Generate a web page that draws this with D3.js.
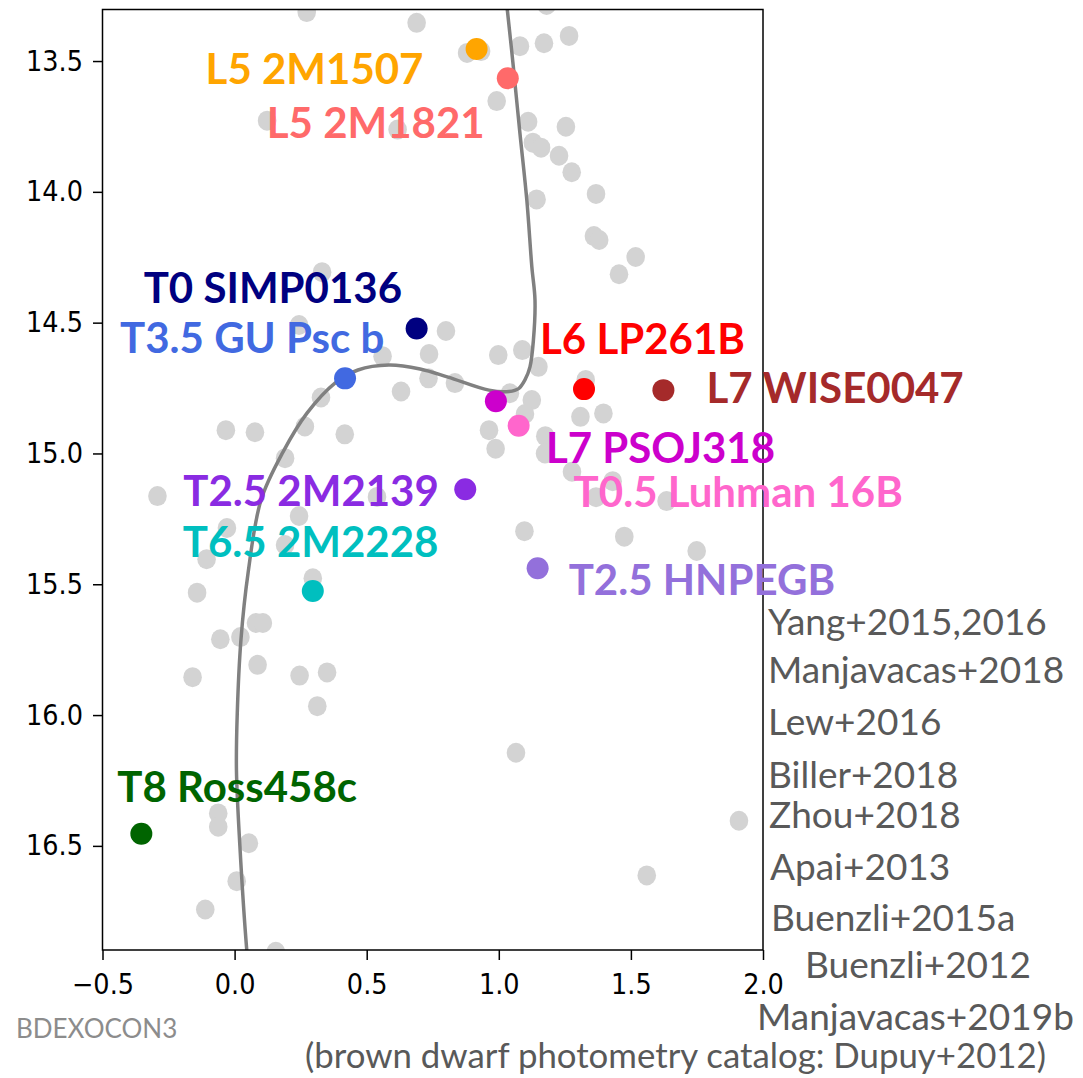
<!DOCTYPE html>
<html>
<head>
<meta charset="utf-8">
<script src="https://cdn.jsdelivr.net/npm/d3@7"></script>
<style>
  html, body { margin: 0; padding: 0; background: #fff; }
  svg { display: block; }
  .axis text { font-family: 'DejaVu Sans', sans-serif; font-size: 25.6px; fill: #000; }
  .axis line { stroke: #000; stroke-width: 1.5; }
  .label { font-family: Lato, 'Open Sans', sans-serif; font-weight: bold; font-size: 42px; }
  .ref { font-family: Lato, 'Open Sans', sans-serif; font-size: 37px; fill: #595959; }
</style>
</head>
<body>
<div id="chart"></div>
<script>
// field brown dwarfs (photometry catalog, Dupuy+2012): colour vs abs. magnitude
const fieldColor = [
  0.273, 0.689, 1.181, 0.880, 0.933, 1.080, 1.171, 1.266, 0.992, 0.123,
  0.617, 1.111, 1.254, 1.129, 1.160, 1.228, 1.276, 1.143, 1.368, 1.360,
  1.380, 1.518, 1.455, 0.331, 0.244, 0.800, 0.560, 0.736, 0.734, 0.327,
  0.630, -0.033, 0.077, 0.266, 0.417, 0.191, -0.292, 0.539, 0.244, -0.029,
  0.191, -0.106, 0.296, -0.142, 0.081, 0.107, -0.054, 0.022, 0.087, -0.159,
  0.246, 0.350, 0.313, -0.062, -0.062, 0.054, 0.008, -0.111, 0.156, 0.998,
  1.089, 1.150, 1.329, 0.834, 1.042, 1.125, 1.099, 1.309, 1.396, 0.963,
  0.988, 1.176, 1.175, 1.277, 1.431, 1.368, 1.635, 1.097, 1.475, 1.749,
  1.065, 1.909, 1.560
];
const fieldMag = [
  13.313, 13.354, 13.286, 13.469, 13.462, 13.443, 13.432, 13.404, 13.653, 13.728,
  13.762, 13.732, 13.751, 13.812, 13.831, 13.862, 13.925, 14.029, 14.008, 14.169,
  14.184, 14.249, 14.315, 14.307, 14.509, 14.532, 14.628, 14.620, 14.713, 14.786,
  14.763, 14.911, 14.919, 14.897, 14.927, 15.018, 15.163, 15.166, 15.239, 15.285,
  15.350, 15.404, 15.477, 15.532, 15.648, 15.648, 15.710, 15.702, 15.808, 15.855,
  15.849, 15.837, 15.966, 16.376, 16.427, 16.490, 16.635, 16.743, 16.905, 14.624,
  14.605, 14.669, 14.719, 14.731, 14.770, 14.796, 14.849, 14.860, 14.847, 14.911,
  14.982, 14.934, 15.000, 15.070, 15.106, 15.167, 15.182, 15.297, 15.318, 15.373,
  16.144, 16.404, 16.613
];

// variability monitoring targets
const targetNames = [
  'L5 2M1507', 'L5 2M1821', 'T0 SIMP0136', 'T3.5 GU Psc b', 'L6 LP261B', 'L7 WISE0047',
  'L7 PSOJ318', 'T0.5 Luhman 16B', 'T2.5 2M2139', 'T2.5 HNPEGB', 'T6.5 2M2228', 'T8 Ross458c'
];
const targetColor = [0.916, 1.034, 0.689, 0.418, 1.3225, 1.623, 0.989, 1.075, 0.873, 1.147, 0.296, -0.353];
const targetMag = [13.454, 13.566, 14.522, 14.713, 14.754, 14.758, 14.800, 14.894, 15.137, 15.439, 15.526, 16.454];
const targetFill = [
  '#FFA500', '#FF6A6A', '#000080', '#4169E1', '#FF0000', '#A52A2A',
  '#CC00CC', '#FF66CC', '#8A2BE2', '#9370DB', '#00BFBF', '#006400'
];

// polynomial sequence
const seqColor = [
  0.050, 0.046, 0.020, 0.007, 0.010, 0.024, 0.051, 0.100, 0.183, 0.274,
  0.380, 0.467, 0.584, 0.702, 0.808, 0.963, 1.039, 1.075, 1.099, 1.118,
  1.131, 1.137, 1.125, 1.106, 1.080, 1.055, 1.032, 1.023
];
const seqMag = [
  16.94, 16.898, 16.500, 16.210, 15.996, 15.713, 15.457, 15.178, 14.995, 14.846,
  14.731, 14.681, 14.662, 14.677, 14.708, 14.758, 14.763, 14.752, 14.719, 14.669,
  14.567, 14.414, 14.286, 14.031, 13.776, 13.522, 13.302, 13.23
];

const xTicks = [-0.5, 0, 0.5, 1, 1.5, 2];
const yTicks = [13.5, 14, 14.5, 15, 15.5, 16, 16.5];

const refNames = [
  'Yang+2015,2016', 'Manjavacas+2018', 'Lew+2016', 'Biller+2018', 'Zhou+2018',
  'Apai+2013', 'Buenzli+2015a', 'Buenzli+2012', 'Manjavacas+2019b'
];
const catalogNote = '(brown dwarf photometry catalog: Dupuy+2012)';
const tagText = 'BDEXOCON3';

// ---- layout (pixels) ----
const width = 1083;
const height = 1078;
const plot = { left: 102.5, right: 763, top: 9.5, bottom: 950 };
const stretch = 1.1; // the original figure is slightly stretched vertically

// label offset from its dot: [dx, dy] to text start / baseline
const labelOffsets = [
  [-271, 35], [-241, 60], [-273, -25], [-225, -25], [-44, -35], [43, 13],
  [50, 62], [55, 81], [-282, 17], [31, 27], [-130, -34], [-24, -32]
];
const refPos = [
  [768, 635], [768, 683], [768, 735], [768, 788], [769, 828],
  [770, 880], [771, 931], [805, 978], [757, 1030]
];

const svg = d3
  .select('#chart')
  .append('svg')
  .attr('width', width)
  .attr('height', height);

svg.append('rect').attr('width', width).attr('height', height).attr('fill', '#fff');

const xScale = d3.scaleLinear().domain([-0.5, 2.0]).range([plot.left, plot.right]);
const yScale = d3.scaleLinear().domain([13.303, 16.898]).range([plot.top, plot.bottom]);

svg
  .append('clipPath')
  .attr('id', 'clip')
  .append('rect')
  .attr('x', plot.left)
  .attr('y', plot.top)
  .attr('width', plot.right - plot.left)
  .attr('height', plot.bottom - plot.top);

const inner = svg.append('g').attr('clip-path', 'url(#clip)');

// field objects
inner
  .selectAll('.field')
  .data(d3.range(fieldColor.length))
  .enter()
  .append('ellipse')
  .attr('class', 'field')
  .attr('cx', i => xScale(fieldColor[i]))
  .attr('cy', i => yScale(fieldMag[i]))
  .attr('rx', 9.3)
  .attr('ry', 10)
  .attr('fill', '#D3D3D3');

// sequence line
const line = d3
  .line()
  .x(i => xScale(seqColor[i]))
  .y(i => yScale(seqMag[i]))
  .curve(d3.curveCatmullRom.alpha(0.5));

inner
  .append('path')
  .datum(d3.range(seqColor.length))
  .attr('d', line)
  .attr('fill', 'none')
  .attr('stroke', '#808080')
  .attr('stroke-width', 3.5);

// targets
inner
  .selectAll('.target')
  .data(d3.range(targetNames.length))
  .enter()
  .append('circle')
  .attr('class', 'target')
  .attr('cx', i => xScale(targetColor[i]))
  .attr('cy', i => yScale(targetMag[i]))
  .attr('r', 11)
  .attr('fill', i => targetFill[i]);

// axes
const xAxis = svg
  .append('g')
  .attr('class', 'axis')
  .attr('transform', `translate(0,${plot.bottom})`)
  .call(d3.axisBottom(xScale).tickValues(xTicks).tickFormat(d3.format('.1f')).tickSize(10).tickSizeOuter(0).tickPadding(12));
xAxis.select('.domain').remove();
xAxis.selectAll('.tick text').attr('transform', `scale(1,${stretch})`);

const yAxis = svg
  .append('g')
  .attr('class', 'axis')
  .attr('transform', `translate(${plot.left},0)`)
  .call(d3.axisLeft(yScale).tickValues(yTicks).tickFormat(d3.format('.1f')).tickSize(9.5).tickSizeOuter(0).tickPadding(10));
yAxis.select('.domain').remove();
yAxis.selectAll('.tick text').attr('transform', `scale(1,${stretch})`);

// frame
svg
  .append('rect')
  .attr('x', plot.left)
  .attr('y', plot.top)
  .attr('width', plot.right - plot.left)
  .attr('height', plot.bottom - plot.top)
  .attr('fill', 'none')
  .attr('stroke', '#000')
  .attr('stroke-width', 1.5);

// target labels
svg
  .selectAll('.label')
  .data(d3.range(targetNames.length))
  .enter()
  .append('text')
  .attr('class', 'label')
  .attr('x', i => xScale(targetColor[i]) + labelOffsets[i][0])
  .attr('y', i => yScale(targetMag[i]) + labelOffsets[i][1])
  .attr('fill', i => targetFill[i])
  .text(i => targetNames[i]);

// references
svg
  .selectAll('.ref')
  .data(refNames)
  .enter()
  .append('text')
  .attr('class', 'ref')
  .attr('x', (d, i) => refPos[i][0])
  .attr('y', (d, i) => refPos[i][1])
  .text(d => d);

svg
  .append('text')
  .attr('class', 'ref')
  .attr('x', 305)
  .attr('y', 1068)
  .style('font-size', '34.8px')
  .text(catalogNote);

svg
  .append('text')
  .attr('x', 16)
  .attr('y', 1038)
  .style('font-family', "Lato, 'Open Sans', sans-serif")
  .style('font-size', '26px')
  .attr('fill', '#8C8C8C')
  .text(tagText);
</script>
</body>
</html>
